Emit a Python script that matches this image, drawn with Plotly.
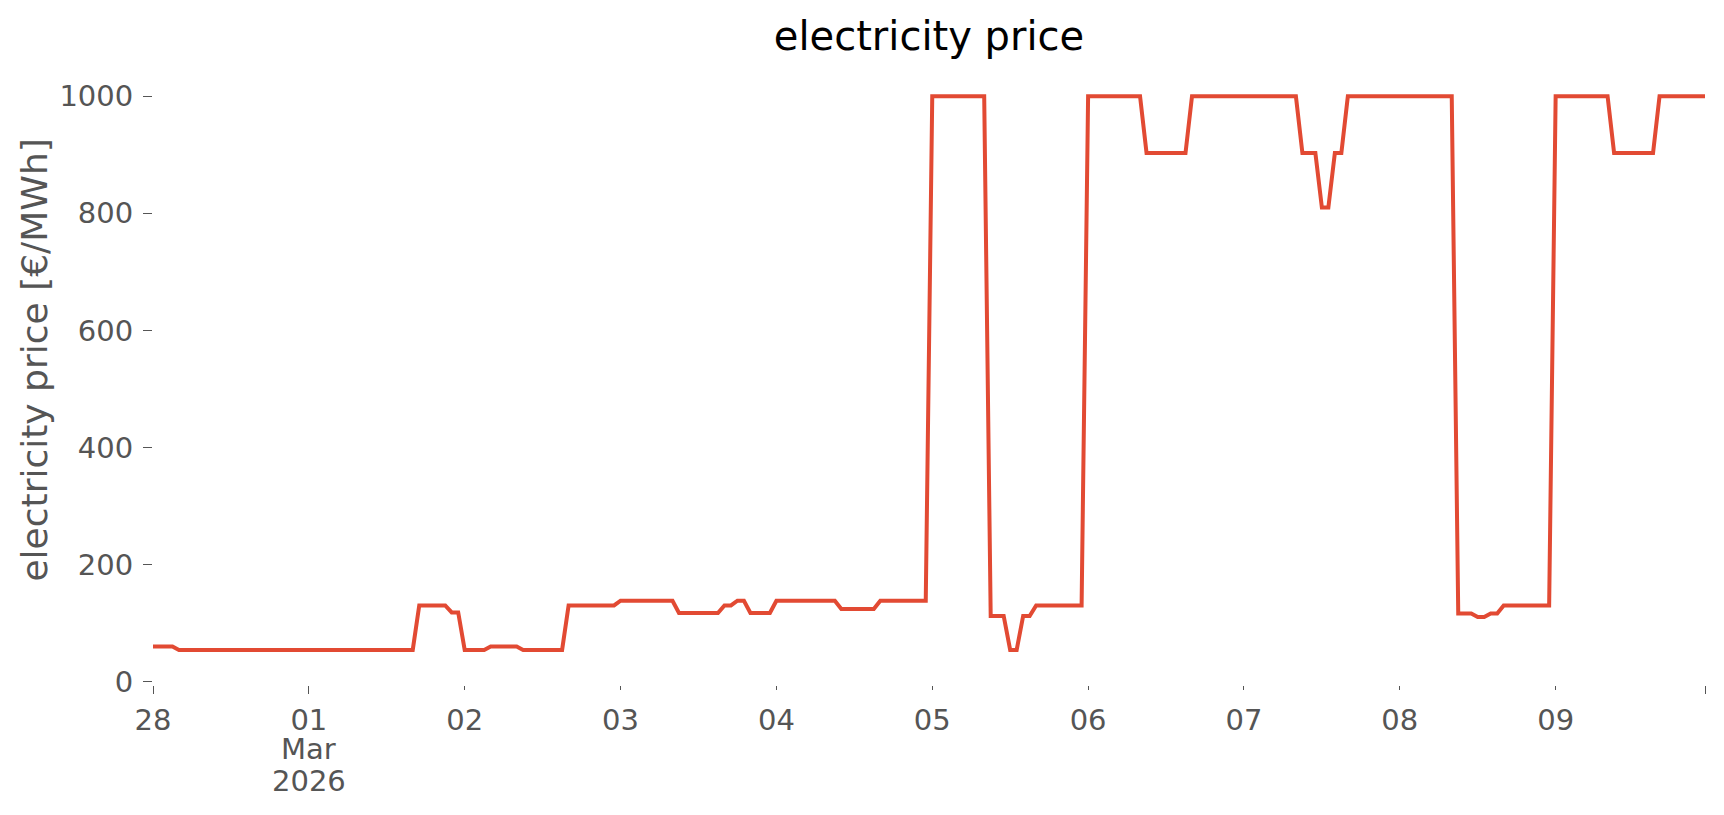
import numpy as np
import pandas as pd
import plotly.graph_objects as go

START = "2026-02-28 00:00"
RUN_PRICE = [60, 54, 130, 118, 54, 60, 54, 130, 138, 117, 130, 138, 117, 138, 124, 138,
             1000, 112, 54, 112, 130, 1000, 903, 1000, 903, 810, 903, 1000,
             116, 110, 116, 130, 1000, 903, 1000]
RUN_HOURS = [4, 37, 5, 2, 4, 5, 7, 8, 9, 7, 2, 2, 4, 10, 6, 8,
             9, 3, 2, 2, 8, 9, 7, 17, 3, 2, 2, 17,
             3, 2, 2, 8, 9, 7, 8]

DAY_TICKS = ["2026-02-28", "2026-03-01", "2026-03-02", "2026-03-03", "2026-03-04",
             "2026-03-05", "2026-03-06", "2026-03-07", "2026-03-08", "2026-03-09"]
DAY_LABELS = ["28", "01", "02", "03", "04", "05", "06", "07", "08", "09"]
MONTH_LABEL = ["Mar", "2026"]
Y_TICKS = [0, 200, 400, 600, 800, 1000]

GREY = "#555555"
RED = "#E24A33"
FONT = "DejaVu Sans"

price = np.repeat(RUN_PRICE, RUN_HOURS)
times = pd.date_range(START, periods=len(price), freq="h")
end = times[-1]
major = [DAY_TICKS[0], DAY_TICKS[1], end]

fig = go.Figure()
fig.add_trace(go.Scatter(x=times, y=price, mode="lines",
                         line=dict(color=RED, width=4), showlegend=False))
# carries the longer "major" ticks
fig.add_trace(go.Scatter(x=times, y=price, mode="lines", xaxis="x2",
                         line=dict(width=0), hoverinfo="skip", showlegend=False))

# the page body adds 8px, so the figure is 16px smaller than the window
fig.update_layout(
    width=1708, height=799,
    paper_bgcolor="white", plot_bgcolor="white",
    margin=dict(l=145, r=11, t=59, b=122),
    font=dict(family=FONT, color=GREY, size=29),
    title=dict(text="electricity price", x=921 / 1708, xanchor="center",
               y=1 - 28 / 799, yanchor="middle", yref="container",
               font=dict(family=FONT, size=40, color="black")),
    xaxis=dict(range=[times[0], end], tickvals=DAY_TICKS, ticktext=DAY_LABELS,
               ticks="outside", ticklen=4, tickwidth=1.3, tickcolor=GREY,
               showgrid=False, zeroline=False, showline=False, automargin=False,
               ticklabelstandoff=5, tickfont=dict(size=29, color=GREY)),
    xaxis2=dict(overlaying="x", matches="x", anchor="y", side="bottom",
                tickvals=major, ticks="outside", ticklen=8, tickwidth=1.3,
                tickcolor=GREY, showticklabels=False, showgrid=False,
                zeroline=False, showline=False, automargin=False),
    yaxis=dict(range=[-6, 1050], tickvals=Y_TICKS, ticks="outside", ticklen=9,
               tickwidth=1.3, tickcolor=GREY, showgrid=False, zeroline=False,
               showline=False, ticklabelstandoff=4, automargin=False,
               tickfont=dict(size=29, color=GREY)),
)

# second and third line of the month-start tick label
for text, ypos in zip(MONTH_LABEL, [-0.1032, -0.1547]):
    fig.add_annotation(text=text, x=DAY_TICKS[1], xref="x", y=ypos, yref="paper",
                       xanchor="center", yanchor="middle", showarrow=False,
                       font=dict(family=FONT, size=29, color=GREY))

fig.add_annotation(text="electricity price [€/MWh]", textangle=-90,
                   xref="paper", yref="paper", x=(35 - 153) / 1552, y=0.525,
                   xanchor="center", yanchor="middle", showarrow=False,
                   font=dict(family=FONT, size=36, color=GREY))

fig.write_html("out.html")
